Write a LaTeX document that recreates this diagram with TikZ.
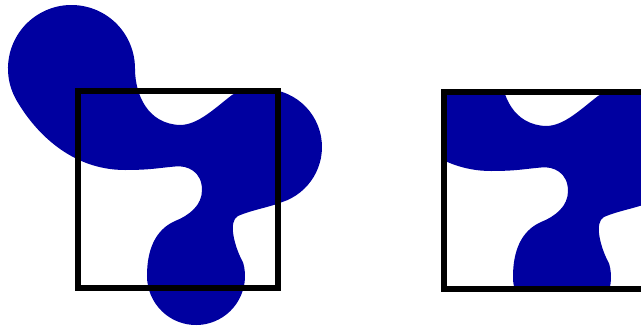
\documentclass[tikz,border=0pt]{standalone}
\usepackage{xcolor}
\usepackage{tikz}

\definecolor{blobblue}{RGB}{0,0,160}

% outline of the blob, in pixel units (three round lobes joined by curves)
\newcommand{\blobpath}{(16.5,100.25) arc[start angle=150, end angle=360, radius=63.5]
  .. controls (135,95) and (148,124) .. (180,125)
  .. controls (198,125) and (215,108) .. (232,95)
  .. controls (238,90.5) and (244,91.6) .. (253.9,89.9)
  arc[start angle=260, end angle=432, radius=58]
  .. controls (270,207) and (250,210.5) .. (238,216)
  .. controls (228,221) and (234,246) .. (243.1,262.5)
  arc[start angle=344, end angle=540, radius=49]
  .. controls (147,250) and (155,230) .. (175,221)
  .. controls (190,215) and (202,205) .. (202,190)
  .. controls (202,172) and (188,165) .. (175,166.5)
  .. controls (158,168) and (150,170) .. (125,170)
  .. controls (70,170) and (34,130.6) .. cycle}

\begin{document}
\begin{tikzpicture}[
    x=1pt, y=-1pt,
    blob/.style={fill=blobblue},
    frame/.style={draw=black, line width=6.5pt},
]
\useasboundingbox (0,0) rectangle (641,327);

% ── Left: blob with window ──
\fill[blob] \blobpath;
\draw[frame] (78,91) rectangle (278,288);

% ── Right: blob clipped to window ──
\begin{scope}
  \clip (444,92) rectangle (644,289);
  \fill[blob, shift={(366,1)}] \blobpath;
\end{scope}
\draw[frame] (444,92) rectangle (644,289);

\end{tikzpicture}
\end{document}
